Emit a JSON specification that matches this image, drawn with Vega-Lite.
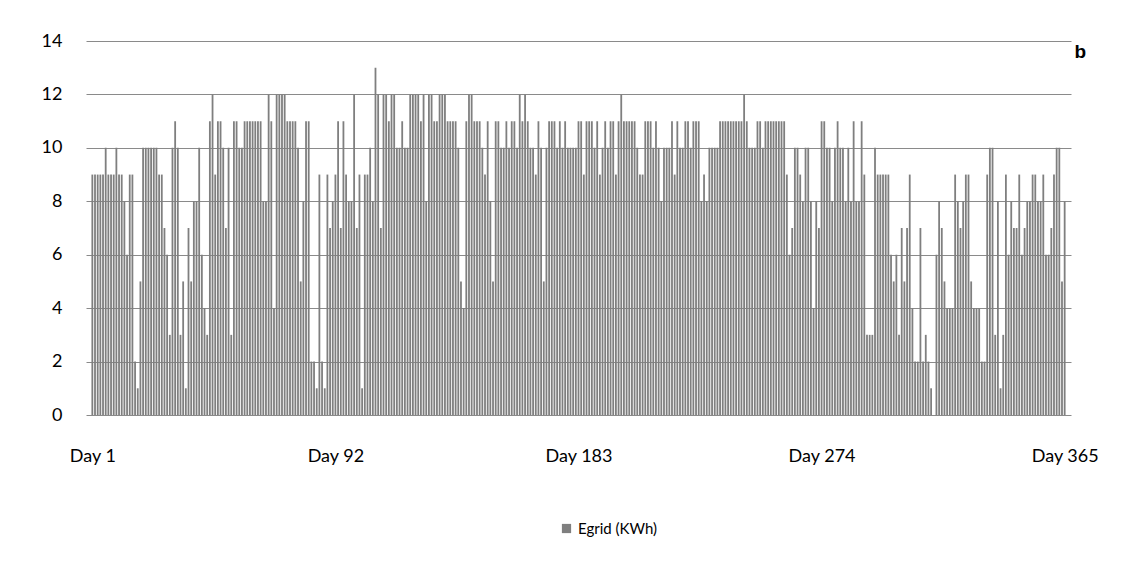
{
  "$schema": "https://vega.github.io/schema/vega-lite/v6.json",
  "width": 985,
  "height": 374,
  "autosize": {"type": "none"},
  "padding": {"left": 86, "top": 41, "right": 52, "bottom": 148},
  "background": "white",
  "config": {
    "font": "Lato",
    "view": {"stroke": null},
    "axis": {"labelFont": "Lato", "labelFontSize": 18, "labelColor": "#000000"}
  },
  "title": {
    "text": "b",
    "anchor": "end",
    "frame": "group",
    "orient": "top",
    "font": "Liberation Sans",
    "fontSize": 19,
    "fontWeight": "bold",
    "color": "#000000",
    "dx": 15,
    "dy": 34
  },
  "data": {
    "values": [
      {"d":1,"v":9},{"d":2,"v":9},{"d":3,"v":9},{"d":4,"v":9},{"d":5,"v":9},{"d":6,"v":10},{"d":7,"v":9},{"d":8,"v":9},{"d":9,"v":9},{"d":10,"v":10},
      {"d":11,"v":9},{"d":12,"v":9},{"d":13,"v":8},{"d":14,"v":6},{"d":15,"v":9},{"d":16,"v":9},{"d":17,"v":2},{"d":18,"v":1},{"d":19,"v":5},{"d":20,"v":10},
      {"d":21,"v":10},{"d":22,"v":10},{"d":23,"v":10},{"d":24,"v":10},{"d":25,"v":10},{"d":26,"v":9},{"d":27,"v":9},{"d":28,"v":7},{"d":29,"v":6},{"d":30,"v":3},
      {"d":31,"v":10},{"d":32,"v":11},{"d":33,"v":10},{"d":34,"v":3},{"d":35,"v":5},{"d":36,"v":1},{"d":37,"v":7},{"d":38,"v":5},{"d":39,"v":8},{"d":40,"v":8},
      {"d":41,"v":10},{"d":42,"v":6},{"d":43,"v":4},{"d":44,"v":3},{"d":45,"v":11},{"d":46,"v":12},{"d":47,"v":9},{"d":48,"v":11},{"d":49,"v":11},{"d":50,"v":10},
      {"d":51,"v":7},{"d":52,"v":10},{"d":53,"v":3},{"d":54,"v":11},{"d":55,"v":11},{"d":56,"v":10},{"d":57,"v":10},{"d":58,"v":11},{"d":59,"v":11},{"d":60,"v":11},
      {"d":61,"v":11},{"d":62,"v":11},{"d":63,"v":11},{"d":64,"v":11},{"d":65,"v":8},{"d":66,"v":8},{"d":67,"v":12},{"d":68,"v":11},{"d":69,"v":4},{"d":70,"v":12},
      {"d":71,"v":12},{"d":72,"v":12},{"d":73,"v":12},{"d":74,"v":11},{"d":75,"v":11},{"d":76,"v":11},{"d":77,"v":11},{"d":78,"v":10},{"d":79,"v":5},{"d":80,"v":8},
      {"d":81,"v":11},{"d":82,"v":11},{"d":83,"v":2},{"d":84,"v":2},{"d":85,"v":1},{"d":86,"v":9},{"d":87,"v":2},{"d":88,"v":1},{"d":89,"v":9},{"d":90,"v":7},
      {"d":91,"v":8},{"d":92,"v":9},{"d":93,"v":11},{"d":94,"v":7},{"d":95,"v":11},{"d":96,"v":9},{"d":97,"v":8},{"d":98,"v":8},{"d":99,"v":12},{"d":100,"v":7},
      {"d":101,"v":9},{"d":102,"v":1},{"d":103,"v":9},{"d":104,"v":9},{"d":105,"v":10},{"d":106,"v":8},{"d":107,"v":13},{"d":108,"v":12},{"d":109,"v":7},{"d":110,"v":12},
      {"d":111,"v":12},{"d":112,"v":11},{"d":113,"v":12},{"d":114,"v":12},{"d":115,"v":10},{"d":116,"v":10},{"d":117,"v":11},{"d":118,"v":10},{"d":119,"v":10},{"d":120,"v":12},
      {"d":121,"v":12},{"d":122,"v":12},{"d":123,"v":12},{"d":124,"v":11},{"d":125,"v":12},{"d":126,"v":8},{"d":127,"v":12},{"d":128,"v":12},{"d":129,"v":11},{"d":130,"v":11},
      {"d":131,"v":12},{"d":132,"v":12},{"d":133,"v":12},{"d":134,"v":11},{"d":135,"v":11},{"d":136,"v":11},{"d":137,"v":11},{"d":138,"v":10},{"d":139,"v":5},{"d":140,"v":4},
      {"d":141,"v":11},{"d":142,"v":12},{"d":143,"v":12},{"d":144,"v":11},{"d":145,"v":11},{"d":146,"v":11},{"d":147,"v":10},{"d":148,"v":9},{"d":149,"v":11},{"d":150,"v":8},
      {"d":151,"v":5},{"d":152,"v":11},{"d":153,"v":11},{"d":154,"v":10},{"d":155,"v":10},{"d":156,"v":11},{"d":157,"v":10},{"d":158,"v":11},{"d":159,"v":11},{"d":160,"v":10},
      {"d":161,"v":12},{"d":162,"v":11},{"d":163,"v":12},{"d":164,"v":11},{"d":165,"v":10},{"d":166,"v":10},{"d":167,"v":9},{"d":168,"v":11},{"d":169,"v":10},{"d":170,"v":5},
      {"d":171,"v":10},{"d":172,"v":11},{"d":173,"v":11},{"d":174,"v":11},{"d":175,"v":10},{"d":176,"v":11},{"d":177,"v":10},{"d":178,"v":11},{"d":179,"v":10},{"d":180,"v":10},
      {"d":181,"v":10},{"d":182,"v":10},{"d":183,"v":11},{"d":184,"v":11},{"d":185,"v":9},{"d":186,"v":11},{"d":187,"v":11},{"d":188,"v":11},{"d":189,"v":10},{"d":190,"v":11},
      {"d":191,"v":9},{"d":192,"v":10},{"d":193,"v":11},{"d":194,"v":10},{"d":195,"v":11},{"d":196,"v":11},{"d":197,"v":9},{"d":198,"v":11},{"d":199,"v":12},{"d":200,"v":11},
      {"d":201,"v":11},{"d":202,"v":11},{"d":203,"v":11},{"d":204,"v":11},{"d":205,"v":10},{"d":206,"v":9},{"d":207,"v":9},{"d":208,"v":11},{"d":209,"v":11},{"d":210,"v":11},
      {"d":211,"v":10},{"d":212,"v":11},{"d":213,"v":10},{"d":214,"v":8},{"d":215,"v":10},{"d":216,"v":10},{"d":217,"v":10},{"d":218,"v":11},{"d":219,"v":9},{"d":220,"v":11},
      {"d":221,"v":10},{"d":222,"v":10},{"d":223,"v":11},{"d":224,"v":11},{"d":225,"v":10},{"d":226,"v":11},{"d":227,"v":11},{"d":228,"v":11},{"d":229,"v":8},{"d":230,"v":9},
      {"d":231,"v":8},{"d":232,"v":10},{"d":233,"v":10},{"d":234,"v":10},{"d":235,"v":10},{"d":236,"v":11},{"d":237,"v":11},{"d":238,"v":11},{"d":239,"v":11},{"d":240,"v":11},
      {"d":241,"v":11},{"d":242,"v":11},{"d":243,"v":11},{"d":244,"v":11},{"d":245,"v":12},{"d":246,"v":11},{"d":247,"v":10},{"d":248,"v":10},{"d":249,"v":10},{"d":250,"v":11},
      {"d":251,"v":11},{"d":252,"v":10},{"d":253,"v":11},{"d":254,"v":11},{"d":255,"v":11},{"d":256,"v":11},{"d":257,"v":11},{"d":258,"v":11},{"d":259,"v":11},{"d":260,"v":11},
      {"d":261,"v":9},{"d":262,"v":6},{"d":263,"v":7},{"d":264,"v":10},{"d":265,"v":10},{"d":266,"v":9},{"d":267,"v":8},{"d":268,"v":10},{"d":269,"v":10},{"d":270,"v":8},
      {"d":271,"v":4},{"d":272,"v":8},{"d":273,"v":7},{"d":274,"v":11},{"d":275,"v":11},{"d":276,"v":10},{"d":277,"v":10},{"d":278,"v":8},{"d":279,"v":10},{"d":280,"v":11},
      {"d":281,"v":10},{"d":282,"v":10},{"d":283,"v":8},{"d":284,"v":10},{"d":285,"v":8},{"d":286,"v":11},{"d":287,"v":8},{"d":288,"v":8},{"d":289,"v":11},{"d":290,"v":9},
      {"d":291,"v":3},{"d":292,"v":3},{"d":293,"v":3},{"d":294,"v":10},{"d":295,"v":9},{"d":296,"v":9},{"d":297,"v":9},{"d":298,"v":9},{"d":299,"v":9},{"d":300,"v":6},
      {"d":301,"v":5},{"d":302,"v":6},{"d":303,"v":3},{"d":304,"v":7},{"d":305,"v":5},{"d":306,"v":7},{"d":307,"v":9},{"d":308,"v":4},{"d":309,"v":2},{"d":310,"v":2},
      {"d":311,"v":7},{"d":312,"v":2},{"d":313,"v":3},{"d":314,"v":2},{"d":315,"v":1},{"d":316,"v":0},{"d":317,"v":6},{"d":318,"v":8},{"d":319,"v":7},{"d":320,"v":5},
      {"d":321,"v":4},{"d":322,"v":4},{"d":323,"v":4},{"d":324,"v":9},{"d":325,"v":8},{"d":326,"v":7},{"d":327,"v":8},{"d":328,"v":9},{"d":329,"v":9},{"d":330,"v":5},
      {"d":331,"v":4},{"d":332,"v":4},{"d":333,"v":4},{"d":334,"v":2},{"d":335,"v":2},{"d":336,"v":9},{"d":337,"v":10},{"d":338,"v":10},{"d":339,"v":3},{"d":340,"v":8},
      {"d":341,"v":1},{"d":342,"v":3},{"d":343,"v":9},{"d":344,"v":6},{"d":345,"v":8},{"d":346,"v":7},{"d":347,"v":7},{"d":348,"v":9},{"d":349,"v":6},{"d":350,"v":7},
      {"d":351,"v":8},{"d":352,"v":8},{"d":353,"v":9},{"d":354,"v":9},{"d":355,"v":8},{"d":356,"v":8},{"d":357,"v":9},{"d":358,"v":6},{"d":359,"v":6},{"d":360,"v":7},
      {"d":361,"v":9},{"d":362,"v":10},{"d":363,"v":10},{"d":364,"v":5},{"d":365,"v":8}
    ]
  },
  "mark": {"type": "bar", "size": 1.8},
  "encoding": {
    "x": {
      "field": "d",
      "type": "quantitative",
      "scale": {"domain": [0.5, 365.5], "nice": false, "zero": false},
      "axis": {
        "title": null,
        "values": [1, 92, 183, 274, 365],
        "labelExpr": "'Day ' + datum.value",
        "grid": false,
        "ticks": false,
        "domain": false,
        "labelPadding": 32,
        "labelFlush": false
      }
    },
    "y": {
      "field": "v",
      "type": "quantitative",
      "scale": {"domain": [0, 14], "nice": false},
      "axis": {
        "title": null,
        "values": [0, 2, 4, 6, 8, 10, 12, 14],
        "grid": true,
        "gridColor": "#8a8a8a",
        "gridWidth": 1,
        "ticks": false,
        "domain": false,
        "labelPadding": 24
      }
    },
    "color": {
      "datum": "Egrid (KWh)",
      "type": "nominal",
      "scale": {"range": ["#7f7f7f"]},
      "legend": {
        "title": null,
        "orient": "none",
        "legendX": 473,
        "legendY": 480,
        "symbolType": "square",
        "symbolSize": 85,
        "symbolStrokeWidth": 0,
        "labelFont": "Lato",
        "labelFontSize": 15,
        "labelColor": "#000000"
      }
    }
  }
}
